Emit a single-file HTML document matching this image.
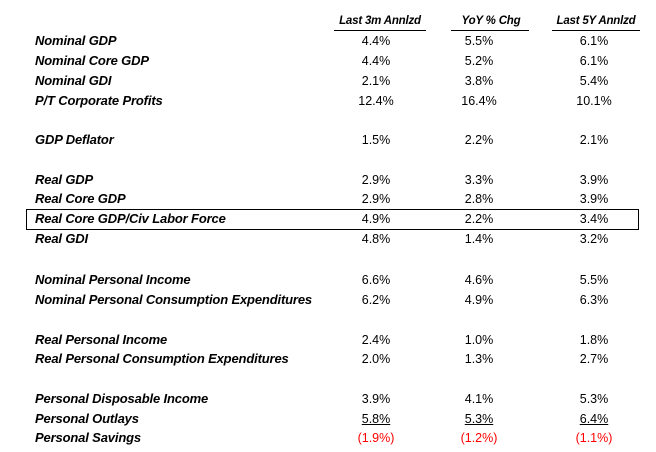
<!DOCTYPE html>
<html><head><meta charset="utf-8"><style>
body{margin:0;width:656px;height:452px;background:#fff;position:relative;font-family:"Liberation Sans",sans-serif;color:#000;overflow:hidden}
.r{position:absolute;left:0;width:656px;height:20px;line-height:20px;font-size:12px}
.l{position:absolute;left:35px;font-weight:bold;font-style:italic;font-size:13px;letter-spacing:-0.15px;white-space:nowrap}
.v{position:absolute;width:100px;text-align:center;font-size:12.5px;white-space:nowrap}
.c1{left:326px}.c2{left:429px}.c3{left:544px}
.h{font-style:italic;font-weight:bold;font-size:11.5px;letter-spacing:-0.2px}
.u{text-decoration:underline}
.red{color:#ff0000}
.line{position:absolute;height:1px;background:#000;top:30px}
</style></head><body>
<div class="r" style="top:11px"><span class="v c1 h" style="left:330px">Last 3m Annlzd</span><span class="v c2 h" style="left:441px">YoY % Chg</span><span class="v c3 h" style="left:546px">Last 5Y Annlzd</span></div>
<div class="line" style="left:334px;width:92px"></div>
<div class="line" style="left:451px;width:78px"></div>
<div class="line" style="left:552px;width:88px"></div>

<div class="r" style="top:31px"><span class="l">Nominal GDP</span><span class="v c1">4.4%</span><span class="v c2">5.5%</span><span class="v c3">6.1%</span></div>
<div class="r" style="top:51px"><span class="l">Nominal Core GDP</span><span class="v c1">4.4%</span><span class="v c2">5.2%</span><span class="v c3">6.1%</span></div>
<div class="r" style="top:71px"><span class="l">Nominal GDI</span><span class="v c1">2.1%</span><span class="v c2">3.8%</span><span class="v c3">5.4%</span></div>
<div class="r" style="top:91px"><span class="l">P/T Corporate Profits</span><span class="v c1">12.4%</span><span class="v c2">16.4%</span><span class="v c3">10.1%</span></div>
<div class="r" style="top:130px"><span class="l">GDP Deflator</span><span class="v c1">1.5%</span><span class="v c2">2.2%</span><span class="v c3">2.1%</span></div>
<div class="r" style="top:170px"><span class="l">Real GDP</span><span class="v c1">2.9%</span><span class="v c2">3.3%</span><span class="v c3">3.9%</span></div>
<div class="r" style="top:189px"><span class="l">Real Core GDP</span><span class="v c1">2.9%</span><span class="v c2">2.8%</span><span class="v c3">3.9%</span></div>
<div style="position:absolute;left:26px;top:209px;width:611px;height:19px;border:1px solid #000"></div>
<div class="r" style="top:209px"><span class="l">Real Core GDP/Civ Labor Force</span><span class="v c1">4.9%</span><span class="v c2">2.2%</span><span class="v c3">3.4%</span></div>
<div class="r" style="top:229px"><span class="l">Real GDI</span><span class="v c1">4.8%</span><span class="v c2">1.4%</span><span class="v c3">3.2%</span></div>
<div class="r" style="top:270px"><span class="l">Nominal Personal Income</span><span class="v c1">6.6%</span><span class="v c2">4.6%</span><span class="v c3">5.5%</span></div>
<div class="r" style="top:290px"><span class="l">Nominal Personal Consumption Expenditures</span><span class="v c1">6.2%</span><span class="v c2">4.9%</span><span class="v c3">6.3%</span></div>
<div class="r" style="top:330px"><span class="l">Real Personal Income</span><span class="v c1">2.4%</span><span class="v c2">1.0%</span><span class="v c3">1.8%</span></div>
<div class="r" style="top:349px"><span class="l">Real Personal Consumption Expenditures</span><span class="v c1">2.0%</span><span class="v c2">1.3%</span><span class="v c3">2.7%</span></div>
<div class="r" style="top:389px"><span class="l">Personal Disposable Income</span><span class="v c1">3.9%</span><span class="v c2">4.1%</span><span class="v c3">5.3%</span></div>
<div class="r" style="top:409px"><span class="l">Personal Outlays</span><span class="v c1"><span class="u">5.8%</span></span><span class="v c2"><span class="u">5.3%</span></span><span class="v c3"><span class="u">6.4%</span></span></div>
<div class="r" style="top:428px"><span class="l">Personal Savings</span><span class="v c1 red">(1.9%)</span><span class="v c2 red">(1.2%)</span><span class="v c3 red">(1.1%)</span></div>
</body></html>
